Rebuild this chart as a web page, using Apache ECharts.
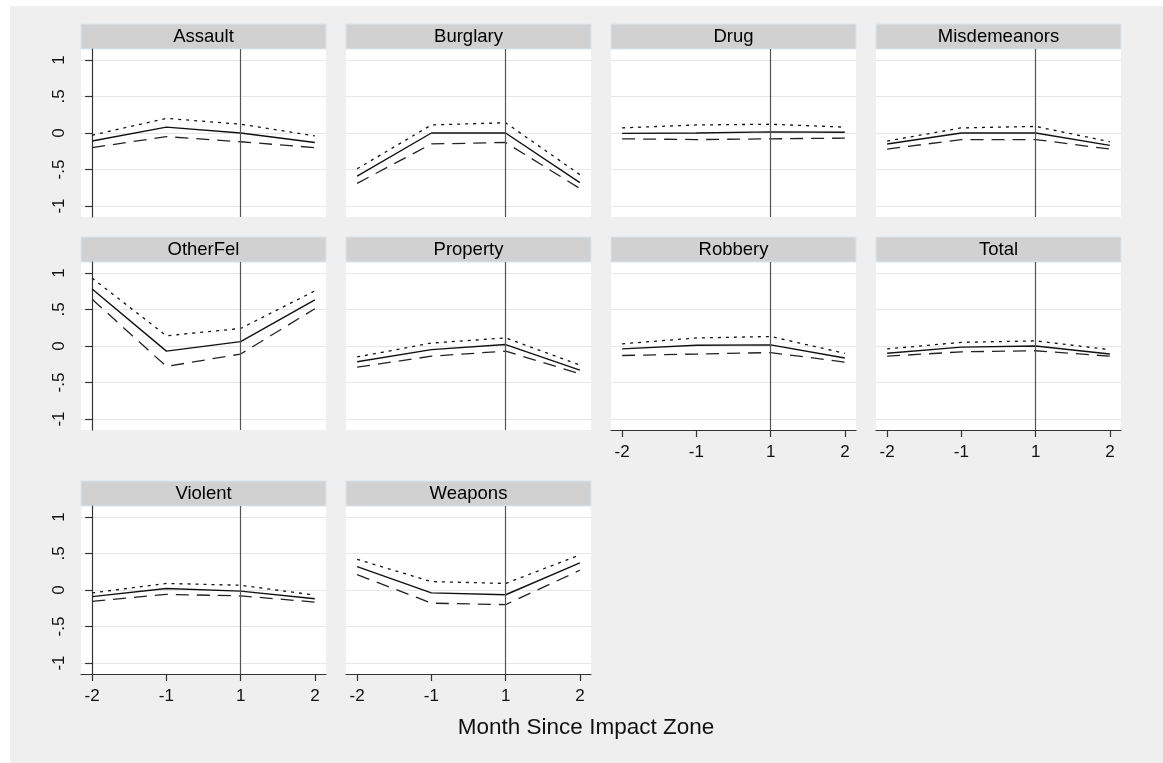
<!DOCTYPE html>
<html>
<head>
<meta charset="utf-8">
<script src="https://cdn.jsdelivr.net/npm/echarts@6/dist/echarts.min.js"></script>
<style>
html, body { margin: 0; padding: 0; background: #fff; }
#chart { width: 1163px; height: 763px; }
</style>
</head>
<body>
<div id="chart"></div>
<script>
// panels, in reading order
var panelNames = ['Assault', 'Burglary', 'Drug', 'Misdemeanors', 'OtherFel',
  'Property', 'Robbery', 'Total', 'Violent', 'Weapons']
var monthLabels = ['-2', '-1', '1', '2']
var yTicks = [-1, -0.5, 0, 0.5, 1]
var yTickLabels = ['-1', '-.5', '0', '.5', '1']

// point estimate (solid)
var estimate = [
  [-0.11, 0.08, 0.0, -0.13],
  [-0.59, 0.0, 0.0, -0.68],
  [-0.005, 0.0, 0.015, 0.01],
  [-0.15, 0.0, 0.0, -0.17],
  [0.78, -0.07, 0.06, 0.63],
  [-0.215, -0.05, 0.02, -0.33],
  [-0.04, 0.01, 0.015, -0.165],
  [-0.1, -0.015, 0.0, -0.11],
  [-0.09, 0.02, -0.015, -0.12],
  [0.32, -0.04, -0.065, 0.37]
]
// upper bound (dotted)
var upper = [
  [-0.03, 0.2, 0.12, -0.04],
  [-0.49, 0.11, 0.14, -0.57],
  [0.07, 0.11, 0.12, 0.08],
  [-0.11, 0.07, 0.09, -0.12],
  [0.93, 0.14, 0.24, 0.755],
  [-0.15, 0.04, 0.11, -0.26],
  [0.03, 0.11, 0.13, -0.1],
  [-0.04, 0.05, 0.07, -0.05],
  [-0.04, 0.09, 0.065, -0.07],
  [0.42, 0.115, 0.09, 0.48]
]
// lower bound (dashed)
var lower = [
  [-0.2, -0.05, -0.12, -0.2],
  [-0.69, -0.15, -0.13, -0.76],
  [-0.08, -0.09, -0.08, -0.07],
  [-0.22, -0.09, -0.09, -0.22],
  [0.64, -0.28, -0.11, 0.51],
  [-0.29, -0.14, -0.07, -0.38],
  [-0.13, -0.11, -0.09, -0.22],
  [-0.14, -0.08, -0.065, -0.14],
  [-0.155, -0.06, -0.08, -0.165],
  [0.21, -0.18, -0.2, 0.27]
]
var cutIndex = 2 // month "1"
var withXAxis = ['Robbery', 'Total', 'Violent', 'Weapons']

var colLeft = [81, 346, 611, 876]
var rowTop = [49, 262, 506]
var plotW = 245
var plotH = 168
var headH = 25
var font = '"Liberation Sans", Arial, sans-serif'

var chart = echarts.init(document.getElementById('chart'))

var grids = []
var xAxes = []
var yAxes = []
var series = []
var graphics = [
  { type: 'rect', shape: { x: 0, y: 0, width: 1163, height: 6 }, style: { fill: '#fff' }, silent: true },
  { type: 'rect', shape: { x: 0, y: 0, width: 10, height: 763 }, style: { fill: '#fff' }, silent: true }
]

function pts (arr) {
  return arr.map(function (v, i) { return [i, v] })
}

panelNames.forEach(function (name, k) {
  var r = Math.floor(k / 4)
  var c = k % 4
  var left = colLeft[c]
  var top = rowTop[r]
  var showX = withXAxis.indexOf(name) >= 0
  var showY = c === 0

  grids.push({
    left: left, top: top, width: plotW, height: plotH,
    show: true, backgroundColor: '#fff', borderWidth: 0
  })

  graphics.push({
    type: 'rect',
    shape: { x: left, y: top - headH, width: plotW, height: headH },
    style: { fill: '#d1d1d1', stroke: '#d9e5ec', lineWidth: 1 },
    silent: true
  })
  graphics.push({
    type: 'text',
    x: left + plotW / 2, y: top - headH / 2,
    style: { text: name, fill: '#000', font: '18.5px ' + font, textAlign: 'center', textVerticalAlign: 'middle' },
    silent: true
  })

  xAxes.push({
    type: 'value', gridIndex: k, min: -0.15, max: 3.15,
    axisLine: { show: showX, onZero: false, lineStyle: { color: '#333', width: 1.2 } },
    axisTick: { show: showX, length: 7, customValues: [0, 1, 2, 3], lineStyle: { color: '#333', width: 1.2 } },
    axisLabel: {
      show: showX, customValues: [0, 1, 2, 3], margin: 14,
      fontSize: 17, fontFamily: font, color: '#111',
      formatter: function (v) { return monthLabels[Math.round(v)] }
    },
    splitLine: { show: false }
  })

  yAxes.push({
    type: 'value', gridIndex: k, min: -1.15, max: 1.15,
    axisLine: { show: showY, lineStyle: { color: '#333', width: 1.2 } },
    axisTick: { show: showY, length: 7, customValues: yTicks, lineStyle: { color: '#333', width: 1.2 } },
    axisLabel: {
      show: showY, customValues: yTicks, rotate: 90, margin: 13,
      fontSize: 17, fontFamily: font, color: '#111',
      formatter: function (v) { return yTickLabels[yTicks.indexOf(v)] }
    },
    splitLine: { show: true, lineStyle: { color: '#e6e6e6', width: 1.2 } }
  })

  series.push({
    type: 'line', xAxisIndex: k, yAxisIndex: k,
    data: pts(estimate[k]), symbol: 'none', silent: true,
    lineStyle: { color: '#111', width: 1.4, type: 'solid' },
    markLine: {
      silent: true, symbol: ['none', 'none'], label: { show: false },
      lineStyle: { color: '#555', width: 1.2, type: 'solid' },
      data: [{ xAxis: cutIndex }]
    }
  })
  series.push({
    type: 'line', xAxisIndex: k, yAxisIndex: k,
    data: pts(upper[k]), symbol: 'none', silent: true,
    lineStyle: { color: '#111', width: 1.3, type: [3, 5] }
  })
  series.push({
    type: 'line', xAxisIndex: k, yAxisIndex: k,
    data: pts(lower[k]), symbol: 'none', silent: true,
    lineStyle: { color: '#222', width: 1.3, type: [13, 8] }
  })
})

graphics.push({
  type: 'text', x: 586, y: 728,
  style: { text: 'Month Since Impact Zone', fill: '#111', font: '22.5px ' + font, textAlign: 'center', textVerticalAlign: 'middle' },
  silent: true
})

chart.setOption({
  backgroundColor: '#efefef',
  animation: false,
  grid: grids,
  xAxis: xAxes,
  yAxis: yAxes,
  series: series,
  graphic: graphics
})
</script>
</body>
</html>
